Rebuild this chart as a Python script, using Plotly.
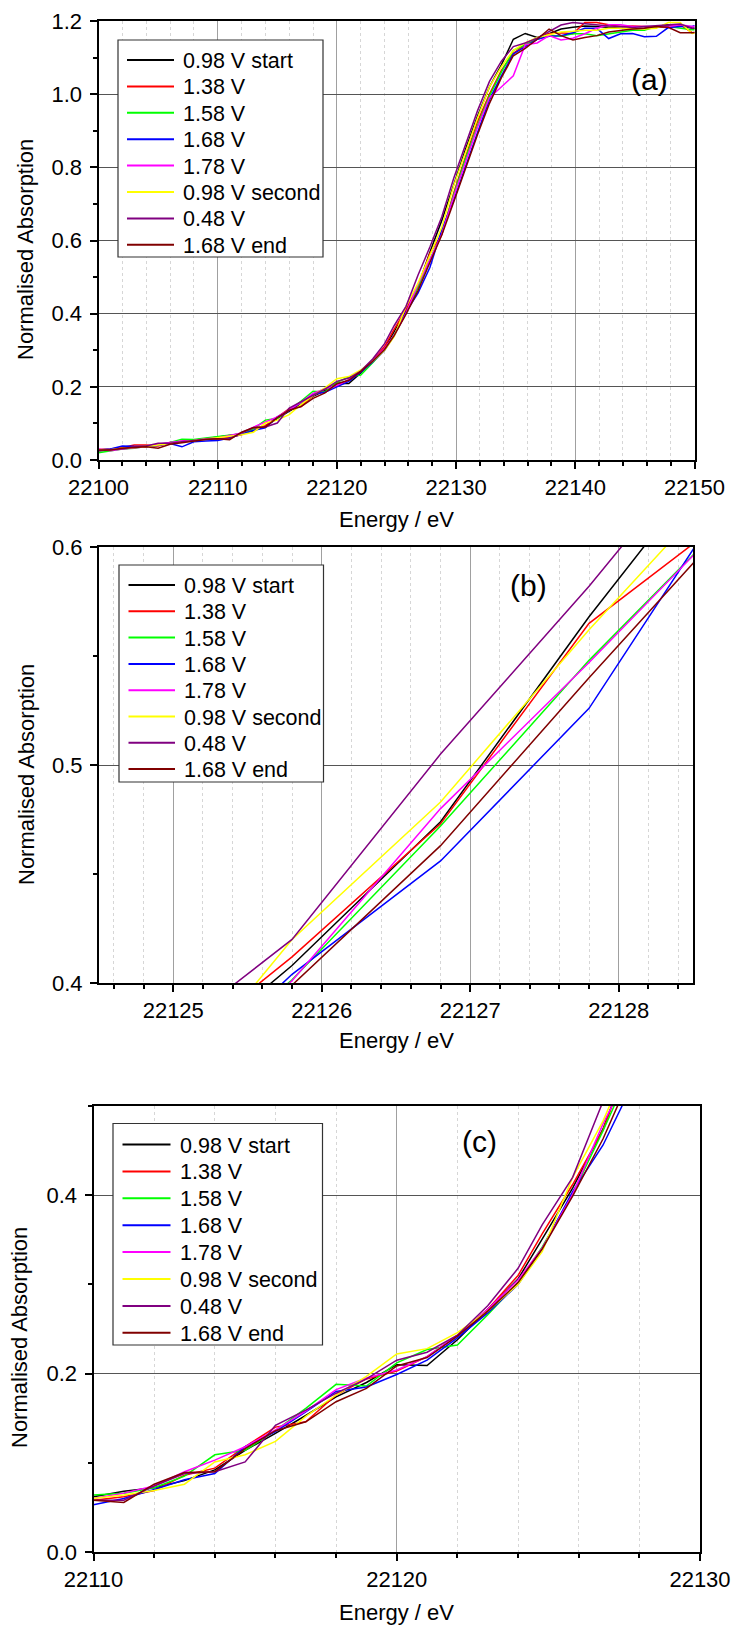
import plotly.graph_objects as go

W, H = 733, 1625

# ---------------- data ----------------
energy = [22100, 22101, 22102, 22103, 22104, 22105, 22106, 22107, 22108, 22109,
          22110, 22111, 22112, 22113, 22114, 22115, 22116, 22117, 22118, 22119,
          22120, 22121, 22122, 22123, 22124, 22124.8, 22125.8, 22126.8, 22127.8, 22128.8,
          22129.8, 22130.8, 22131.8, 22132.8, 22133.8, 22134.8, 22135.8, 22136.8, 22137.8, 22138.8,
          22139.8, 22140.8, 22141.8, 22142.8, 22143.8, 22144.8, 22145.8, 22146.8, 22147.8, 22148.8,
          22149.8, 22150.8]

v098_start = [0.025, 0.027, 0.030, 0.034, 0.036, 0.040, 0.048, 0.050, 0.054, 0.058,
              0.062, 0.068, 0.072, 0.080, 0.092, 0.114, 0.133, 0.153, 0.174, 0.190,
              0.210, 0.209, 0.238, 0.272, 0.306, 0.351, 0.408, 0.474, 0.568, 0.655,
              0.755, 0.850, 0.940, 1.020, 1.080, 1.150, 1.166, 1.155, 1.165, 1.178,
              1.183, 1.186, 1.185, 1.183, 1.180, 1.178, 1.180, 1.185, 1.190, 1.188,
              1.180, 1.178]

v138 = [0.029, 0.030, 0.034, 0.041, 0.041, 0.038, 0.047, 0.050, 0.055, 0.058,
        0.058, 0.062, 0.069, 0.086, 0.094, 0.118, 0.140, 0.146, 0.176, 0.194,
        0.203, 0.219, 0.243, 0.272, 0.310, 0.357, 0.412, 0.473, 0.565, 0.617,
        0.730, 0.830, 0.925, 1.000, 1.065, 1.112, 1.135, 1.153, 1.165, 1.168,
        1.165, 1.196, 1.196, 1.190, 1.185, 1.186, 1.185, 1.185, 1.182, 1.190,
        1.168, 1.170]

v158 = [0.020, 0.025, 0.030, 0.032, 0.037, 0.042, 0.048, 0.057, 0.056, 0.060,
        0.064, 0.066, 0.072, 0.085, 0.109, 0.114, 0.136, 0.161, 0.188, 0.186,
        0.212, 0.227, 0.232, 0.266, 0.302, 0.342, 0.4015, 0.472, 0.548, 0.617,
        0.725, 0.825, 0.915, 0.995, 1.060, 1.120, 1.135, 1.150, 1.160, 1.158,
        1.165, 1.165, 1.160, 1.165, 1.170, 1.175, 1.175, 1.185, 1.185, 1.180,
        1.176, 1.176]

v168 = [0.027, 0.030, 0.038, 0.038, 0.036, 0.040, 0.045, 0.036, 0.050, 0.052,
        0.053, 0.060, 0.070, 0.081, 0.088, 0.118, 0.135, 0.157, 0.180, 0.185,
        0.199, 0.215, 0.240, 0.268, 0.300, 0.340, 0.404, 0.456, 0.526, 0.630,
        0.710, 0.805, 0.895, 0.985, 1.050, 1.110, 1.130, 1.150, 1.158, 1.160,
        1.168, 1.180, 1.180, 1.152, 1.165, 1.166, 1.157, 1.158, 1.182, 1.185,
        1.185, 1.196]

v178 = [0.030, 0.025, 0.030, 0.034, 0.036, 0.044, 0.048, 0.052, 0.053, 0.058,
        0.060, 0.066, 0.074, 0.090, 0.103, 0.118, 0.137, 0.158, 0.182, 0.195,
        0.204, 0.219, 0.243, 0.272, 0.305, 0.341, 0.401, 0.480, 0.547, 0.617,
        0.720, 0.815, 0.910, 0.990, 1.020, 1.050, 1.135, 1.140, 1.160, 1.148,
        1.153, 1.165, 1.180, 1.190, 1.190, 1.185, 1.185, 1.185, 1.185, 1.190,
        1.185, 1.185]

v098_second = [0.027, 0.028, 0.032, 0.033, 0.036, 0.041, 0.045, 0.048, 0.052, 0.056,
               0.060, 0.064, 0.069, 0.076, 0.101, 0.109, 0.124, 0.152, 0.176, 0.197,
               0.222, 0.228, 0.246, 0.270, 0.300, 0.337, 0.420, 0.483, 0.562, 0.636,
               0.750, 0.845, 0.935, 1.020, 1.075, 1.120, 1.140, 1.155, 1.162, 1.170,
               1.172, 1.175, 1.175, 1.180, 1.180, 1.178, 1.178, 1.180, 1.196, 1.196,
               1.166, 1.170]

v048 = [0.025, 0.027, 0.031, 0.036, 0.038, 0.046, 0.046, 0.050, 0.054, 0.057,
        0.058, 0.058, 0.074, 0.088, 0.090, 0.101, 0.142, 0.159, 0.178, 0.194,
        0.215, 0.224, 0.243, 0.276, 0.318, 0.367, 0.420, 0.505, 0.582, 0.665,
        0.770, 0.865, 0.955, 1.035, 1.090, 1.130, 1.140, 1.153, 1.171, 1.189,
        1.196, 1.192, 1.189, 1.186, 1.185, 1.182, 1.185, 1.188, 1.190, 1.192,
        1.180, 1.185]

v168_end = [0.027, 0.027, 0.032, 0.035, 0.036, 0.032, 0.043, 0.047, 0.052, 0.056,
            0.058, 0.0556, 0.076, 0.089, 0.090, 0.116, 0.136, 0.146, 0.1685, 0.1835,
            0.2086, 0.218, 0.242, 0.270, 0.302, 0.340, 0.399, 0.463, 0.540, 0.615,
            0.705, 0.800, 0.890, 0.975, 1.045, 1.105, 1.125, 1.150, 1.178, 1.160,
            1.148, 1.155, 1.160, 1.170, 1.175, 1.178, 1.180, 1.185, 1.183, 1.168,
            1.168, 1.170]

series_names = ["0.98 V start", "1.38 V", "1.58 V", "1.68 V", "1.78 V",
                "0.98 V second", "0.48 V", "1.68 V end"]
series_values = [v098_start, v138, v158, v168, v178, v098_second, v048, v168_end]
series_colors = ["#000000", "#FF0000", "#00FF00", "#0000FF", "#FF00FF",
                 "#FFFF00", "#800080", "#800000"]

panel_labels = ["(a)", "(b)", "(c)"]
x_title = "Energy / eV"
y_title = "Normalised Absorption"

# ---------------- layout helpers ----------------
def fx(px):
    return px / W

def fy(py):
    return 1 - py / H

FONT = "Liberation Sans, Arial, sans-serif"
TICK_SIZE = 22
TITLE_SIZE = 22
LEG_SIZE = 21.5

# pixel boxes of the three plot areas: (left, right, top, bottom)
boxes = [(98.5, 694.5, 21, 460), (99, 693, 547, 983), (93.5, 700, 1106, 1552)]
xranges = [[22100, 22150], [22124.5, 22128.5], [22110, 22130]]
yranges = [[0, 1.2], [0.4, 0.6], [0, 0.5]]
xdt = [10, 1, 10]
xminor = [2, 0.2, 2]
ydt = [0.2, 0.1, 0.2]
yminor = [0.1, 0.05, 0.1]

fig = go.Figure()

for p in range(3):
    sfx = "" if p == 0 else str(p + 1)
    for name, vals, col in zip(series_names, series_values, series_colors):
        fig.add_trace(go.Scatter(
            x=energy, y=vals, mode="lines", name=name,
            line=dict(color=col, width=1.5),
            xaxis="x" + sfx, yaxis="y" + sfx,
            showlegend=False,
        ))

layout = dict(
    width=W, height=H, autosize=False,
    margin=dict(l=0, r=0, t=0, b=0, pad=0, autoexpand=False),
    paper_bgcolor="white", plot_bgcolor="white",
    font=dict(family=FONT, size=21, color="black"),
    showlegend=False,
)

annotations = []
shapes = []
label_pos = [(649, 80), (528, 585), (479, 1141)]
ytitle_pos = [(25, 250), (26, 775), (19, 1338)]
xtitle_pos = [(396.5, 519), (396, 1040), (396.5, 1612)]
# legend boxes: (left, right, top, bottom, first row centre, row step, line x0, line x1, text x)
legend_geo = [(118, 323, 40, 257, 60, 26.4, 127, 174, 181),
              (119, 323.5, 565, 782, 585, 26.3, 128.5, 175, 182),
              (113, 322.5, 1123.5, 1345, 1144.5, 26.9, 122.5, 170.5, 177.5)]

for p in range(3):
    l, r, t, b = boxes[p]
    sfx = "" if p == 0 else str(p + 1)
    layout["xaxis" + sfx] = dict(
        domain=[fx(l), fx(r)], range=xranges[p], anchor="y" + sfx,
        automargin=False,
        showline=True, linecolor="black", linewidth=2, mirror=True,
        ticks="outside", ticklen=7, tickwidth=1.5, tickcolor="black",
        dtick=xdt[p], tick0=22100, tickformat="d",
        showgrid=True, gridcolor="#a0a0a0", gridwidth=1,
        zeroline=False,
        tickfont=dict(family=FONT, size=TICK_SIZE, color="black"),
        minor=dict(dtick=xminor[p], tick0=22100, ticks="outside", ticklen=4,
                   tickwidth=1.5, tickcolor="black",
                   showgrid=True, gridcolor="#d6d6d6", gridwidth=1, griddash="dot"),
    )
    layout["yaxis" + sfx] = dict(
        domain=[fy(b), fy(t)], range=yranges[p], anchor="x" + sfx,
        automargin=False,
        showline=True, linecolor="black", linewidth=2, mirror=True,
        ticks="outside", ticklen=7, tickwidth=1.5, tickcolor="black",
        dtick=ydt[p], tick0=0, tickformat=".1f",
        ticklabelstandoff=3,
        showgrid=True, gridcolor="#555555", gridwidth=1.2,
        zeroline=False,
        tickfont=dict(family=FONT, size=TICK_SIZE, color="black"),
        minor=dict(dtick=yminor[p], tick0=0, ticks="outside", ticklen=4,
                   tickwidth=1.5, tickcolor="black", showgrid=False),
    )

    # manual legend (box, line samples, labels)
    gl, gr, gt, gb, r0, step, lx0, lx1, tx = legend_geo[p]
    shapes.append(dict(type="rect", xref="paper", yref="paper",
                       x0=fx(gl), x1=fx(gr), y0=fy(gb), y1=fy(gt),
                       line=dict(color="#333333", width=1.2), fillcolor="white", layer="above"))
    for i, (name, col) in enumerate(zip(series_names, series_colors)):
        yy = r0 + i * step
        shapes.append(dict(type="line", xref="paper", yref="paper",
                           x0=fx(lx0), x1=fx(lx1), y0=fy(yy), y1=fy(yy),
                           line=dict(color=col, width=2), layer="above"))
        annotations.append(dict(text=name, x=fx(tx), y=fy(yy + 1), xref="paper", yref="paper",
                                showarrow=False, xanchor="left", yanchor="middle",
                                font=dict(family=FONT, size=LEG_SIZE, color="black")))

    ax, ay = label_pos[p]
    annotations.append(dict(text=panel_labels[p], x=fx(ax), y=fy(ay), xref="paper", yref="paper",
                            showarrow=False, xanchor="center", yanchor="middle",
                            font=dict(family=FONT, size=30, color="black")))
    tx_, ty_ = ytitle_pos[p]
    annotations.append(dict(text=y_title, x=fx(tx_), y=fy(ty_), xref="paper", yref="paper",
                            showarrow=False, textangle=-90, xanchor="center", yanchor="middle",
                            font=dict(family=FONT, size=TITLE_SIZE, color="black")))
    tx_, ty_ = xtitle_pos[p]
    annotations.append(dict(text=x_title, x=fx(tx_), y=fy(ty_), xref="paper", yref="paper",
                            showarrow=False, xanchor="center", yanchor="middle",
                            font=dict(family=FONT, size=TITLE_SIZE, color="black")))

layout["annotations"] = annotations
layout["shapes"] = shapes
fig.update_layout(**layout)

fig.write_html("out.html")
